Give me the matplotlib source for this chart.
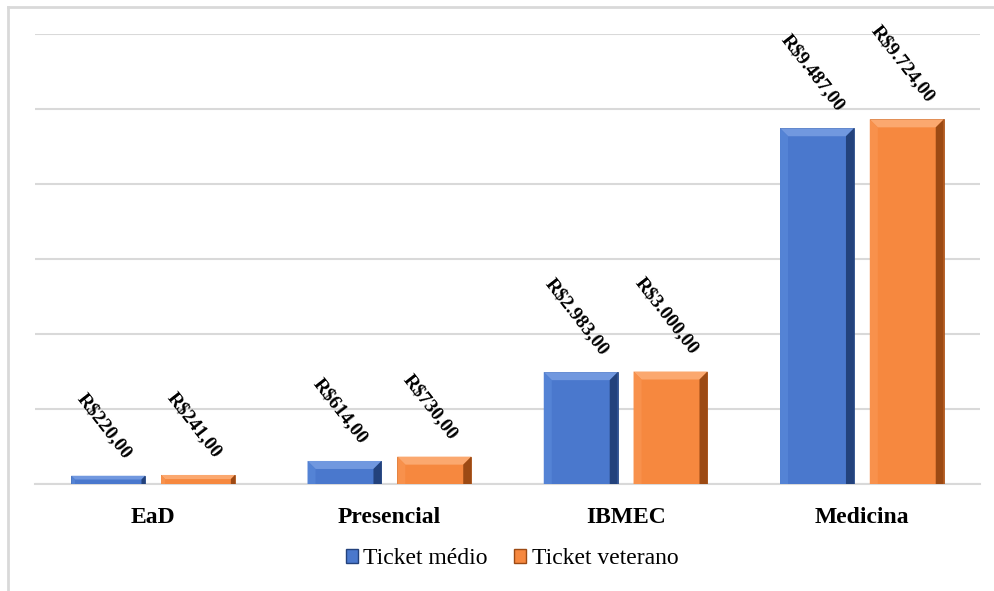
import matplotlib
matplotlib.use("Agg")
import matplotlib.pyplot as plt
import numpy as np
from matplotlib.patches import Polygon, Patch
from matplotlib.transforms import IdentityTransform
from matplotlib.lines import Line2D

categories = ["EaD", "Presencial", "IBMEC", "Medicina"]
series_names = ["Ticket médio", "Ticket veterano"]
ticket_medio = [220, 614, 2983, 9487]
ticket_veterano = [241, 730, 3000, 9724]
value_labels_medio = ["R$220,00", "R$614,00", "R$2.983,00", "R$9.487,00"]
value_labels_veterano = ["R$241,00", "R$730,00", "R$3.000,00", "R$9.724,00"]

serif = ["Liberation Serif", "DejaVu Serif"]

palettes = [
    dict(face="#4A78CD", top="#7198DF", left="#5483D5", right="#23427C", bottom="#2F5391", edge="#2A4A85"),
    dict(face="#F6883F", top="#FBA86F", left="#F8914C", right="#9C4A14", bottom="#B85C1C", edge="#A9531A"),
]

fig = plt.figure(figsize=(9.95, 5.91), dpi=100)
ax = fig.add_axes([35/995, 1-484/591, (980-35)/995, (484-34)/591])

x = np.arange(len(categories))
off = 0.19
w = 0.313
bars = []
for i, (vals, pal) in enumerate(zip([ticket_medio, ticket_veterano], palettes)):
    b = ax.bar(x + (i*2-1)*off, vals, width=w, color=pal["face"], edgecolor=pal["edge"],
               linewidth=0.6, zorder=3)
    bars.append(b)

ax.set_ylim(0, 12000)
ax.set_xlim(-0.5, len(categories)-0.5)
ax.set_yticks(np.arange(0, 12001, 2000))
ax.yaxis.grid(True, color="#D9D9D9", linewidth=1.5, zorder=0)
ax.tick_params(axis="y", left=False, labelleft=False)
ax.tick_params(axis="x", bottom=False, pad=13)
ax.set_xticks(x)
ax.set_xticklabels(categories, fontfamily=serif, fontweight="bold", fontsize=17)
for s in ["top", "right", "left"]:
    ax.spines[s].set_visible(False)
ax.spines["bottom"].set_color("#D9D9D9")
ax.spines["bottom"].set_linewidth(1.5)
ax.set_axisbelow(True)

for bc, labels in zip(bars, [value_labels_medio, value_labels_veterano]):
    for rect, lab in zip(bc, labels):
        ax.annotate(lab, (rect.get_x() + rect.get_width()/2, rect.get_height()),
                    xytext=(-3, 10), textcoords="offset points", ha="center", va="bottom",
                    rotation=-52, fontfamily=serif, fontweight="bold", fontsize=14, zorder=5)

# bevel effect
fig.canvas.draw()
for bc, pal in zip(bars, palettes):
    for rect in bc:
        bb = rect.get_window_extent()
        x0, y0, x1, y1 = bb.x0, bb.y0, bb.x1, bb.y1
        bv = min(8, (y1-y0)/2.2, (x1-x0)/4)
        polys = [
            ([(x0, y1), (x1, y1), (x1-bv, y1-bv), (x0+bv, y1-bv)], pal["top"]),
            ([(x0, y0), (x0+bv, y0), (x0+bv, y1-bv), (x0, y1)], pal["left"]),
            ([(x1, y0), (x1-bv, y0), (x1-bv, y1-bv), (x1, y1)], pal["right"]),
        ]
        for pts, c in polys:
            p = Polygon(pts, closed=True, facecolor=c, edgecolor="none",
                        transform=IdentityTransform(), zorder=4)
            fig.add_artist(p)

handles = [Patch(facecolor=p["face"], edgecolor=p["right"], linewidth=1.0) for p in palettes]
fig.legend(handles, series_names, loc="center", bbox_to_anchor=(512/995, 1-559/591), ncol=2,
           frameon=False, prop=dict(family=serif, size=17), handlelength=0.5, handleheight=0.5,
           handletextpad=0.25, columnspacing=1.1)

# figure border (left and top)
fig.add_artist(Line2D([8/995, 8/995], [0, 1-7/591], transform=fig.transFigure, color="#D9D9D9", linewidth=2))
fig.add_artist(Line2D([8/995, 1], [1-7/591, 1-7/591], transform=fig.transFigure, color="#D9D9D9", linewidth=2))

fig.savefig("out.png", dpi=100, facecolor="white")
